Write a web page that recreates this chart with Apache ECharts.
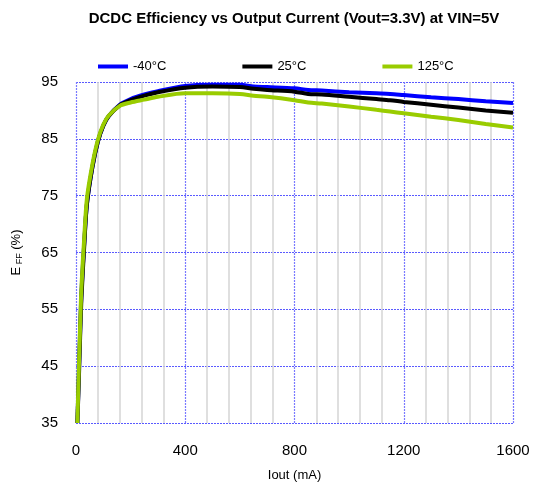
<!DOCTYPE html>
<html><head><meta charset="utf-8">
<script src="https://cdn.jsdelivr.net/npm/echarts@6/dist/echarts.min.js"></script>
<style>html,body{margin:0;padding:0;background:#fff}#c{width:535px;height:487px}</style>
</head><body><div id="c"></div>
<script>
const currents = [5,10,15,20,30,40,60,80,100,120,160,200,250,300,400,500,600,650,700,800,850,900,1000,1100,1150,1200,1300,1400,1500,1600];
const effM40 = [35,43,51,58,66.5,73.5,80,84.5,87.3,89.0,91.0,92.0,92.8,93.4,94.3,94.5,94.5,94.2,94.1,93.9,93.6,93.5,93.2,93.0,92.9,92.7,92.3,92.0,91.6,91.3];
const eff25  = [35,42,50,57,66,73.5,80,84.5,87.3,89.0,90.9,91.8,92.6,93.2,94.0,94.2,94.1,93.8,93.6,93.3,92.9,92.8,92.4,92.0,91.8,91.5,91.0,90.5,90.0,89.6];
const eff125 = [35,44,52,59,67.5,74.5,80.5,84.8,87.5,89.1,90.8,91.4,91.9,92.4,93.0,93.0,92.9,92.6,92.4,91.8,91.4,91.2,90.7,90.1,89.8,89.5,88.9,88.3,87.6,87.0];
const seriesNames = ['-40°C','25°C','125°C'];
const seriesColors = ['#0000ff','#000000','#99cc00'];
const xTicks = [0,400,800,1200,1600];
const yTicks = [35,45,55,65,75,85,95];

const pair = arr => currents.map((c,i)=>[c,arr[i]]);
const chart = echarts.init(document.getElementById('c'));
const font = 'Liberation Sans, Arial, sans-serif';
chart.setOption({
  animation:false,
  textStyle:{fontFamily:font},
  title:{text:'DCDC Efficiency vs Output Current (Vout=3.3V) at VIN=5V',left:289,textAlign:'center',top:6,
    textStyle:{fontFamily:font,fontSize:15,fontWeight:'bold',color:'#000'}},
  legend:{top:55,left:93,itemGap:76,itemWidth:30,itemHeight:4,icon:'rect',
    textStyle:{fontFamily:font,fontSize:13,color:'#000'},data:seriesNames},
  grid:{left:76,right:22,top:82,bottom:64},
  xAxis:{
    type:'value',min:0,max:1600,interval:400,
    name:'Iout (mA)',nameLocation:'middle',nameGap:46,
    nameTextStyle:{fontFamily:font,fontSize:13,color:'#000'},
    axisLine:{show:false},axisTick:{show:false},
    minorTick:{show:false,splitNumber:5},
    minorSplitLine:{show:true,lineStyle:{color:'#d4d4d4',width:1.5,type:'solid'}},
    axisLabel:{fontFamily:font,fontSize:15,color:'#000',margin:20,
      formatter:v=>xTicks.includes(v)?String(v):''},
    splitLine:{show:true,lineStyle:{color:'#7a7aff',width:1.2,type:[2,1]}}
  },
  yAxis:{type:'value',min:35,max:95,interval:10,
    name:'{a|E}{b| FF}{a| (%)}',nameLocation:'middle',nameGap:52,nameRotate:90,
    nameTextStyle:{rich:{a:{fontFamily:font,fontSize:13,color:'#000'},b:{fontFamily:font,fontSize:9,color:'#000',padding:[6,0,0,0]}}},
    axisLine:{show:false},axisTick:{show:false},
    axisLabel:{fontFamily:font,fontSize:15,color:'#000',margin:18,
      formatter:v=>yTicks.includes(v)?String(v):''},
    splitLine:{show:true,lineStyle:{color:'#5a5aff',width:1,type:[2,1]}}
  },
  series:[
    {name:seriesNames[2],type:'line',data:pair(eff125),smooth:0.3,showSymbol:false,lineStyle:{width:4,color:seriesColors[2]},itemStyle:{color:seriesColors[2]},z:3},
    {name:seriesNames[1],type:'line',data:pair(eff25),smooth:0.3,showSymbol:false,lineStyle:{width:4,color:seriesColors[1]},itemStyle:{color:seriesColors[1]},z:2},
    {name:seriesNames[0],type:'line',data:pair(effM40),smooth:0.3,showSymbol:false,lineStyle:{width:4,color:seriesColors[0]},itemStyle:{color:seriesColors[0]},z:1}
  ]
});
chart.setOption({legend:{data:seriesNames}});
</script></body></html>
